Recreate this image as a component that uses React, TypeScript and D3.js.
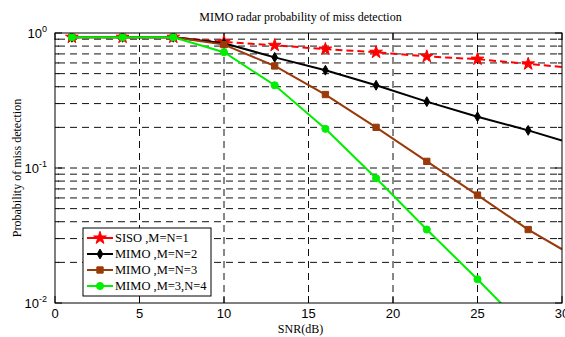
import * as d3 from "d3";
import { useEffect, useRef } from "react";

const snr = [1, 4, 7, 10, 13, 16, 19, 22, 25, 28, 30];
const siso = [0.93, 0.93, 0.93, 0.86, 0.81, 0.76, 0.72, 0.67, 0.64, 0.59, 0.56];
const mimo2 = [0.93, 0.93, 0.93, 0.84, 0.66, 0.53, 0.41, 0.31, 0.24, 0.19, 0.16];
const mimo3 = [0.93, 0.93, 0.93, 0.82, 0.57, 0.35, 0.2, 0.112, 0.063, 0.035, 0.025];
const mimo34 = [0.93, 0.93, 0.93, 0.72, 0.41, 0.195, 0.084, 0.035, 0.015, 0.0062];

const xTicks = [0, 5, 10, 15, 20, 25, 30];
const yMajor = [0.01, 0.1, 1];

const SERIES = [
	{ name: "SISO ,M=N=1", values: siso, color: "#ff0000", symbol: d3.symbolStar, size: 50, dash: "7,4" },
	{ name: "MIMO ,M=N=2", values: mimo2, color: "#000000", symbol: d3.symbolDiamond, size: 28, dash: null },
	{ name: "MIMO ,M=N=3", values: mimo3, color: "#9a3a0b", symbol: d3.symbolSquare, size: 40, dash: null },
	{ name: "MIMO ,M=3,N=4", values: mimo34, color: "#00ee00", symbol: d3.symbolCircle, size: 40, dash: null },
];

export default function App() {
	const svgRef = useRef<SVGSVGElement>(null);

	useEffect(() => {
		if (!svgRef.current) return;
		const width = 565;
		const height = 337;
		const margin = { top: 33, right: 3, bottom: 34, left: 55 };
		const innerW = width - margin.left - margin.right;
		const innerH = height - margin.top - margin.bottom;

		const svg = d3.select(svgRef.current);
		svg.selectAll("*").remove();
		svg.attr("width", width).attr("height", height);
		svg.append("rect").attr("width", width).attr("height", height).attr("fill", "#fff");

		svg.append("defs")
			.append("clipPath")
			.attr("id", "plot-clip")
			.append("rect")
			.attr("width", innerW)
			.attr("height", innerH);

		const g = svg.append("g").attr("transform", `translate(${margin.left},${margin.top})`);

		const x = d3.scaleLinear().domain([0, 30]).range([0, innerW]);
		const y = d3.scaleLog().domain([0.01, 1]).range([innerH, 0]);

		const minor: number[] = [];
		[0.01, 0.1].forEach((base) => {
			for (let k = 2; k <= 9; k++) minor.push(base * k);
		});
		const allY = [...yMajor, ...minor];

		// Grid
		g.selectAll(".ygrid")
			.data(allY.filter((v) => v > 0.01 && v < 1))
			.enter()
			.append("line")
			.attr("x1", 0)
			.attr("x2", innerW)
			.attr("y1", (d) => y(d))
			.attr("y2", (d) => y(d))
			.attr("stroke", "#111")
			.attr("stroke-width", 1)
			.attr("stroke-dasharray", "7,5")
			.attr("stroke-dashoffset", -3);
		g.selectAll(".xgrid")
			.data(xTicks.filter((v) => v > 0 && v < 30))
			.enter()
			.append("line")
			.attr("x1", (d) => x(d))
			.attr("x2", (d) => x(d))
			.attr("y1", 0)
			.attr("y2", innerH)
			.attr("stroke", "#111")
			.attr("stroke-width", 1)
			.attr("stroke-dasharray", "7,5");

		// Ticks (inward, both sides)
		const tickLen = (v: number) => (yMajor.includes(v) ? 7 : 4);
		allY.forEach((v) => {
			g.append("line").attr("x1", 0).attr("x2", tickLen(v)).attr("y1", y(v)).attr("y2", y(v)).attr("stroke", "#000");
			g.append("line").attr("x1", innerW).attr("x2", innerW - tickLen(v)).attr("y1", y(v)).attr("y2", y(v)).attr("stroke", "#000");
		});
		xTicks.forEach((v) => {
			g.append("line").attr("x1", x(v)).attr("x2", x(v)).attr("y1", innerH).attr("y2", innerH - 7).attr("stroke", "#000");
			g.append("line").attr("x1", x(v)).attr("x2", x(v)).attr("y1", 0).attr("y2", 7).attr("stroke", "#000");
		});

		// Series
		const plot = g.append("g").attr("clip-path", "url(#plot-clip)");
		SERIES.forEach((s) => {
			const pts = s.values.map((v, i) => [snr[i], v] as [number, number]);
			const line = d3
				.line<[number, number]>()
				.x((d) => x(d[0]))
				.y((d) => y(d[1]));
			plot.append("path")
				.datum(pts)
				.attr("d", line)
				.attr("fill", "none")
				.attr("stroke", s.color)
				.attr("stroke-width", 2)
				.attr("stroke-dasharray", s.dash);
			const marks = pts.filter((d) => d[0] !== 30);
			plot.selectAll(null)
				.data(marks)
				.enter()
				.append("path")
				.attr("transform", (d) => `translate(${x(d[0])},${y(d[1])})`)
				.attr("d", d3.symbol().type(s.symbol).size(s.size)())
				.attr("fill", s.color)
				.attr("stroke", s.color)
				.attr("stroke-width", 1);
		});

		// Frame
		g.append("rect")
			.attr("width", innerW)
			.attr("height", innerH)
			.attr("fill", "none")
			.attr("stroke", "#000")
			.attr("stroke-width", 1);

		// X tick labels
		g.selectAll(".xlab")
			.data(xTicks)
			.enter()
			.append("text")
			.attr("x", (d) => x(d))
			.attr("y", innerH + 15)
			.attr("text-anchor", "middle")
			.attr("font-family", "Liberation Sans, Arial, sans-serif")
			.attr("font-size", 13)
			.text((d) => d);

		// Y tick labels
		yMajor.forEach((v) => {
			const t = g.append("text")
				.attr("x", -8)
				.attr("y", y(v) + 5)
				.attr("text-anchor", "end")
				.attr("font-family", "Liberation Sans, Arial, sans-serif")
				.attr("font-size", 13);
			t.append("tspan").text("10");
			t.append("tspan")
				.attr("font-size", 9)
				.attr("dy", -6)
				.text(String(Math.round(Math.log10(v))));
		});

		// Title and axis labels
		svg.append("text")
			.attr("x", margin.left + innerW / 2 - 8)
			.attr("y", 21)
			.attr("text-anchor", "middle")
			.attr("font-family", "Liberation Serif, Times New Roman, serif")
			.attr("font-size", 12)
			.text("MIMO radar probability of miss detection");
		svg.append("text")
			.attr("x", margin.left + innerW / 2 - 8)
			.attr("y", height - 4)
			.attr("text-anchor", "middle")
			.attr("font-family", "Liberation Serif, Times New Roman, serif")
			.attr("font-size", 12)
			.text("SNR(dB)");
		svg.append("text")
			.attr("transform", `translate(21,${margin.top + innerH / 2}) rotate(-90)`)
			.attr("text-anchor", "middle")
			.attr("font-family", "Liberation Serif, Times New Roman, serif")
			.attr("font-size", 12)
			.text("Probability of miss detection");

		// Legend
		const lg = svg.append("g").attr("transform", "translate(83,228)");
		lg.append("rect")
			.attr("width", 128)
			.attr("height", 68)
			.attr("fill", "#fff")
			.attr("stroke", "#000")
			.attr("stroke-width", 1);
		SERIES.forEach((s, i) => {
			const cy = 10 + i * 16;
			lg.append("line")
				.attr("x1", 4)
				.attr("x2", 30)
				.attr("y1", cy)
				.attr("y2", cy)
				.attr("stroke", s.color)
				.attr("stroke-width", 2);
			lg.append("path")
				.attr("transform", `translate(17,${cy})`)
				.attr("d", d3.symbol().type(s.symbol).size(s.size)())
				.attr("fill", s.color)
				.attr("stroke", s.color);
			lg.append("text")
				.attr("x", 32)
				.attr("y", cy + 4)
				.attr("font-family", "Liberation Serif, Times New Roman, serif")
				.attr("font-size", 12.5)
				.text(s.name);
		});
	}, []);

	return <svg ref={svgRef} style={{ position: "absolute", left: 0, top: 0 }} />;
}
